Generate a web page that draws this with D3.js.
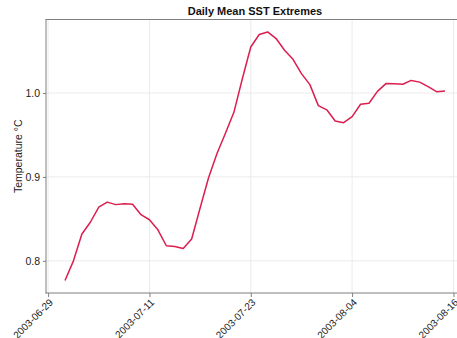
<!DOCTYPE html>
<html>
<head>
<meta charset="utf-8">
<script src="https://cdn.jsdelivr.net/npm/d3@7"></script>
<style>
  html, body { margin: 0; padding: 0; background: #fff; }
  svg { display: block; font-family: "Liberation Sans", Arial, sans-serif; }
</style>
</head>
<body>
<svg id="chart" width="457" height="338"></svg>
<script>
// Daily mean sea-surface temperature (°C), 2003-07-01 .. 2003-08-15
const startDate = "2003-07-01";
const sstValues = [
  0.7765, 0.800, 0.832, 0.846, 0.864, 0.870, 0.867, 0.868, 0.8675, 0.855,
  0.849, 0.837, 0.818, 0.817, 0.8147, 0.826, 0.863, 0.899, 0.928, 0.952,
  0.977, 1.017, 1.0548, 1.0697, 1.0728, 1.0649, 1.0509, 1.0402, 1.0231, 1.010,
  0.985, 0.980, 0.9666, 0.9646, 0.9718, 0.9866, 0.9878, 1.002, 1.0112, 1.011,
  1.0104, 1.015, 1.013, 1.0076, 1.0016, 1.0025
];
const xTickLabels = ["2003-06-29", "2003-07-11", "2003-07-23", "2003-08-04", "2003-08-16"];
const yTickValues = [0.8, 0.9, 1.0];

const parse = d3.utcParse("%Y-%m-%d");
const t0 = parse(startDate);
const data = sstValues.map((v, i) => ({ date: d3.utcDay.offset(t0, i), value: v }));

const svg = d3.select("#chart");
const margin = { left: 46, right: -7, top: 19.5, bottom: 45 };
const W = 457, H = 338;
const x0 = margin.left, x1 = W - margin.right;
const y0 = H - margin.bottom, y1 = margin.top;

// 5% padding around the data extent on both axes
const xExt = d3.extent(data, d => +d.date);
const xPad = (xExt[1] - xExt[0]) * 0.05;
const yExt = d3.extent(data, d => d.value);
const yPad = (yExt[1] - yExt[0]) * 0.05;

const x = d3.scaleUtc().domain([xExt[0] - xPad, xExt[1] + xPad]).range([x0, x1]);
const y = d3.scaleLinear().domain([yExt[0] - yPad, yExt[1] + yPad]).range([y0, y1]);

const xTicks = xTickLabels.map(parse);
const gridColor = "#ebebeb";
const spineColor = "#7f7f7f";
const textColor = "#222";

// grid
svg.append("g").selectAll("line").data(xTicks).join("line")
  .attr("x1", d => x(d)).attr("x2", d => x(d))
  .attr("y1", y1).attr("y2", y0)
  .attr("stroke", gridColor).attr("stroke-width", 1);
svg.append("g").selectAll("line").data(yTickValues).join("line")
  .attr("x1", x0).attr("x2", x1)
  .attr("y1", d => y(d)).attr("y2", d => y(d))
  .attr("stroke", gridColor).attr("stroke-width", 1);

// data line
svg.append("path").datum(data)
  .attr("fill", "none")
  .attr("stroke", "#dc1e4f")
  .attr("stroke-width", 1.5)
  .attr("stroke-linejoin", "round")
  .attr("d", d3.line().x(d => x(d.date)).y(d => y(d.value)));

// frame: left, bottom, top
svg.append("line").attr("x1", x0).attr("x2", x0).attr("y1", y1).attr("y2", y0 + 0.5)
  .attr("stroke", spineColor).attr("stroke-width", 1);
svg.append("line").attr("x1", x0 - 0.5).attr("x2", x1).attr("y1", y0).attr("y2", y0)
  .attr("stroke", spineColor).attr("stroke-width", 1);
svg.append("line").attr("x1", x0 - 0.5).attr("x2", x1).attr("y1", y1).attr("y2", y1)
  .attr("stroke", spineColor).attr("stroke-width", 1);

// x axis ticks and labels
const xAxis = d3.axisBottom(x).tickValues(xTicks)
  .tickFormat((d, i) => xTickLabels[i]).tickSize(4).tickSizeOuter(0);
const gx = svg.append("g").attr("transform", `translate(0,${y0})`).call(xAxis);
gx.select(".domain").remove();
gx.selectAll(".tick line").attr("stroke", spineColor);
gx.selectAll(".tick text")
  .attr("fill", textColor)
  .style("font-size", "10px")
  .attr("text-anchor", "end")
  .attr("dy", null).attr("y", 0)
  .attr("transform", "translate(5,10) rotate(-45)");

// y axis ticks and labels
const yAxis = d3.axisLeft(y).tickValues(yTickValues)
  .tickFormat(d3.format(".1f")).tickSize(3).tickSizeOuter(0);
const gy = svg.append("g").attr("transform", `translate(${x0},0)`).call(yAxis);
gy.select(".domain").remove();
gy.selectAll(".tick line").attr("stroke", spineColor);
gy.selectAll(".tick text").attr("fill", textColor).style("font-size", "10.5px").attr("x", -6);

// axis title
svg.append("text")
  .attr("transform", `translate(22,${(y0 + y1) / 2}) rotate(-90)`)
  .attr("text-anchor", "middle")
  .attr("fill", textColor)
  .style("font-size", "10.5px")
  .text("Temperature °C");

// chart title
svg.append("text")
  .attr("x", (x0 + x1) / 2).attr("y", 15)
  .attr("text-anchor", "middle")
  .attr("fill", "#111")
  .style("font-size", "11px").style("font-weight", "bold")
  .text("Daily Mean SST Extremes");
</script>
</body>
</html>
